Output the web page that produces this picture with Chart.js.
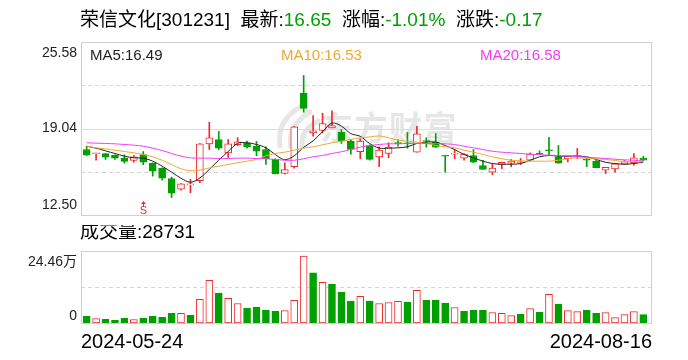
<!DOCTYPE html>
<html>
<head>
<meta charset="utf-8">
<script src="https://cdn.jsdelivr.net/npm/chart.js@4.4.1/dist/chart.umd.min.js"></script>
<style>
  html, body { margin: 0; padding: 0; background: #fff; }
  #wrap { position: relative; width: 688px; height: 360px; overflow: hidden; }
  canvas { position: absolute; left: 0; }
  #price { top: 0; }
  #vol { top: 225px; }
  #title {
    position: absolute; left: 80px; top: 9px; line-height: 22px;
    font-size: 19px; font-family: "Liberation Sans", "Noto Sans CJK SC", sans-serif;
    color: #000; white-space: pre;
  }
  #title .dn { color: #00a000; }
</style>
</head>
<body>
<div id="wrap">
  <canvas id="price" width="688" height="225"></canvas>
  <canvas id="vol" width="688" height="135"></canvas>
  <div id="title">荣信文化[301231]  最新:<span class="dn">16.65</span>  涨幅:<span class="dn">-1.01%</span>  涨跌:<span class="dn">-0.17</span></div>
</div>
<script>
// 2024-05-24 .. 2024-08-16, 60 trading days
const dates = ['2024-05-24', '2024-08-16']

const opens = [17.45, 17.13, 17.15, 17.02, 16.80, 16.63, 17.07, 16.40, 16.02, 15.26,
  14.45, 14.78, 15.09, 17.88, 18.21, 17.20, 17.81, 17.96, 17.70, 17.45,
  16.70, 15.64, 16.15, 21.69, 18.71, 18.89, 19.09, 18.76, 18.08, 17.28,
  17.75, 16.90, 17.15, 17.93, 17.95, 17.25, 18.10, 18.00, 16.97, 17.10,
  16.80, 17.00, 16.24, 15.74, 16.32, 16.42, 16.47, 16.64, 17.12, 17.40,
  16.90, 16.75, 16.92, 16.75, 16.57, 15.89, 15.99, 16.34, 16.45, 16.80]
const closes = [17.03, 17.15, 16.87, 16.80, 16.55, 16.90, 16.49, 15.82, 15.28, 14.15,
  14.85, 14.81, 17.88, 18.34, 17.55, 17.88, 18.04, 17.66, 17.32, 16.75,
  15.62, 15.94, 19.17, 20.55, 18.87, 19.42, 19.27, 18.08, 17.45, 18.08,
  16.70, 17.40, 17.63, 17.90, 17.88, 18.64, 18.06, 17.63, 16.94, 17.13,
  17.10, 16.49, 15.94, 16.04, 16.49, 16.57, 16.50, 17.10, 17.08, 17.36,
  16.42, 16.95, 16.97, 16.64, 16.07, 16.10, 16.37, 16.54, 16.82, 16.65]
const highs = [17.70, 17.16, 17.15, 17.05, 17.05, 17.00, 17.30, 16.45, 16.07, 15.36,
  14.88, 15.20, 17.90, 19.52, 18.81, 18.21, 18.34, 18.08, 18.06, 17.66,
  16.75, 16.45, 19.20, 23.05, 20.02, 20.20, 20.38, 18.96, 18.21, 18.26,
  17.80, 17.66, 17.96, 18.21, 18.74, 19.20, 18.34, 18.66, 16.98, 17.45,
  17.15, 17.45, 16.64, 16.37, 16.49, 16.70, 16.77, 17.20, 17.35, 18.38,
  17.75, 16.95, 17.53, 16.75, 16.64, 16.10, 16.37, 16.62, 17.15, 16.95]
const lows = [17.00, 16.65, 16.70, 16.70, 16.42, 16.49, 16.30, 15.44, 15.13, 13.82,
  14.38, 14.18, 14.94, 17.45, 17.45, 16.85, 17.75, 17.55, 16.98, 16.32,
  15.60, 15.60, 16.04, 20.27, 18.46, 18.71, 19.09, 17.91, 17.10, 16.75,
  16.65, 16.15, 16.83, 17.70, 17.55, 17.25, 17.63, 17.60, 15.74, 16.75,
  16.65, 16.45, 15.94, 15.54, 16.00, 16.15, 16.32, 16.64, 17.07, 17.07,
  16.42, 16.52, 16.77, 16.15, 16.07, 15.62, 15.74, 16.34, 16.27, 16.62]

const ma5 = [17.70, 17.55, 17.35, 17.15, 16.95, 16.82, 16.80, 16.57, 16.19, 15.74,
  15.28, 14.98, 15.30, 15.95, 16.65, 17.30, 17.92, 17.96, 17.83, 17.58,
  17.07, 16.68, 16.98, 17.62, 18.10, 18.80, 19.45, 19.22, 18.65, 18.45,
  17.90, 17.56, 17.55, 17.58, 17.66, 17.91, 18.01, 18.01, 17.75, 17.45,
  17.07, 16.82, 16.57, 16.39, 16.34, 16.34, 16.39, 16.64, 16.90, 17.00,
  16.95, 16.95, 16.95, 16.90, 16.70, 16.49, 16.39, 16.34, 16.39, 16.49]
const ma10 = [17.70, 17.58, 17.50, 17.40, 17.30, 17.20, 17.07, 16.90, 16.64, 16.32,
  15.99, 15.85, 15.89, 16.07, 16.19, 16.32, 16.45, 16.57, 16.70, 16.98,
  17.15, 17.25, 17.40, 17.55, 17.66, 17.81, 17.96, 18.08, 18.21, 18.34,
  18.40, 18.48, 18.34, 18.16, 18.08, 18.00, 17.91, 17.75, 17.66, 17.58,
  17.40, 17.25, 17.07, 16.90, 16.75, 16.64, 16.60, 16.57, 16.57, 16.57,
  16.64, 16.75, 16.82, 16.80, 16.75, 16.70, 16.62, 16.54, 16.52, 16.53]
const ma20 = [17.96, 17.93, 17.91, 17.88, 17.83, 17.78, 17.70, 17.55, 17.38, 17.15,
  16.95, 16.82, 16.80, 16.80, 16.77, 16.77, 16.80, 16.80, 16.77, 16.75,
  16.70, 16.64, 16.64, 16.75, 16.90, 17.00, 17.15, 17.28, 17.45, 17.63,
  17.75, 17.83, 17.88, 17.88, 17.91, 17.91, 17.91, 17.91, 17.88, 17.83,
  17.70, 17.58, 17.45, 17.32, 17.25, 17.20, 17.15, 17.10, 17.05, 17.02,
  17.00, 16.95, 16.92, 16.87, 16.82, 16.77, 16.72, 16.67, 16.64, 16.58]

// volume in 万手
const volumes = [2.29, 1.49, 1.26, 0.91, 1.60, 1.14, 1.60, 2.29, 1.94, 3.31,
  3.31, 2.63, 8.00, 14.52, 10.17, 8.34, 6.63, 5.03, 5.37, 4.34,
  4.00, 4.23, 7.66, 22.75, 17.03, 13.83, 13.26, 10.52, 7.43, 9.03,
  7.43, 6.63, 6.97, 7.32, 7.09, 11.09, 7.77, 7.77, 6.74, 5.26,
  4.00, 4.34, 4.34, 3.54, 3.31, 2.51, 2.97, 4.91, 3.66, 9.72,
  6.40, 4.23, 3.89, 4.34, 3.31, 3.54, 1.83, 2.86, 3.89, 2.87]
const lastVolume = 28731

const priceTicks = [12.50, 19.04, 25.58]
const volTicks = [0, 24.46]
const signals = [6]

const RED = '#f02a2a'
const GREEN = '#00a000'
const C_MA5 = '#222222'
const C_MA10 = '#f0a830'
const C_MA20 = '#f23ff2'
const FONT = '"Liberation Sans", "Noto Sans CJK SC", sans-serif'

const idx = closes.map((_, i) => i)
const isUp = i => closes[i] >= opens[i]
const volUp = i => (i > 0 ? closes[i] >= closes[i - 1] : isUp(i))

const xScale = { type: 'linear', min: -0.6, max: 59.92, offset: false, display: false }

function hline(ctx, a, y, dash, color) {
  const yy = Math.round(y) + 0.5
  ctx.save()
  ctx.strokeStyle = color
  ctx.lineWidth = 1
  ctx.setLineDash(dash)
  ctx.beginPath()
  ctx.moveTo(a.left, yy)
  ctx.lineTo(a.right, yy)
  ctx.stroke()
  ctx.restore()
}

function frame(ctx, a) {
  ctx.save()
  ctx.strokeStyle = '#d0d0d0'
  ctx.lineWidth = 1
  ctx.strokeRect(Math.round(a.left) + 0.5, Math.round(a.top) + 0.5,
    Math.round(a.right - a.left) - 1, Math.round(a.bottom - a.top))
  ctx.restore()
}

const priceDecor = {
  id: 'priceDecor',
  beforeDatasetsDraw(chart) {
    const { ctx, chartArea: a, scales: { y } } = chart
    ctx.save()
    // watermark
    ctx.fillStyle = '#e6e6e6'
    ctx.strokeStyle = '#e6e6e6'
    ctx.lineCap = 'round'
    ctx.lineWidth = 5
    ;[[280, 146, 276, 120, 302, 106], [291, 147, 287, 126, 310, 112], [302, 146, 300, 131, 318, 121]]
      .forEach(p => {
        ctx.beginPath()
        ctx.moveTo(p[0], p[1])
        ctx.quadraticCurveTo(p[2], p[3], p[4], p[5])
        ctx.stroke()
      })
    ctx.font = 'bold 33px "Noto Sans CJK SC", sans-serif'
    ctx.textBaseline = 'middle'
    ctx.textAlign = 'left'
    ;['东', '方', '财', '富'].forEach((ch, k) => ctx.fillText(ch, 320 + k * 34.5, 127))
    ctx.restore()

    const mid = priceTicks[1]
    hline(ctx, a, y.getPixelForValue((priceTicks[0] + mid) / 2), [4, 3], '#d6d6d6')
    hline(ctx, a, y.getPixelForValue(mid), [], '#dcdcdc')
    hline(ctx, a, y.getPixelForValue((priceTicks[2] + mid) / 2), [4, 3], '#d6d6d6')
  },
  afterDraw(chart) {
    const { ctx, chartArea: a, scales: { x, y } } = chart
    frame(ctx, a)
    ctx.save()
    ctx.font = '14px ' + FONT
    ctx.fillStyle = '#222'
    ctx.textAlign = 'right'
    ctx.textBaseline = 'middle'
    ctx.fillText(priceTicks[2].toFixed(2), a.left - 4, y.getPixelForValue(priceTicks[2]) + 11)
    ctx.fillText(priceTicks[1].toFixed(2), a.left - 4, y.getPixelForValue(priceTicks[1]))
    ctx.fillText(priceTicks[0].toFixed(2), a.left - 4, y.getPixelForValue(priceTicks[0]) - 10)

    ctx.font = '15px ' + FONT
    ctx.textAlign = 'left'
    const n = closes.length - 1
    ctx.fillStyle = C_MA5
    ctx.fillText('MA5:' + ma5[n].toFixed(2), 90, a.top + 14)
    ctx.fillStyle = C_MA10
    ctx.fillText('MA10:' + ma10[n].toFixed(2), 281, a.top + 14)
    ctx.fillStyle = C_MA20
    ctx.fillText('MA20:' + ma20[n].toFixed(2), 480, a.top + 14)

    // B/S signal marks
    ctx.fillStyle = RED
    signals.forEach(i => {
      const sx = Math.round(x.getPixelForValue(i))
      const base = a.bottom - 13
      ctx.beginPath()
      ctx.moveTo(sx + 0.5, base - 1)
      ctx.lineTo(sx - 2, base + 2)
      ctx.lineTo(sx + 3, base + 2)
      ctx.closePath()
      ctx.fill()
      ctx.fillRect(sx, base + 2, 1, 3)
      ctx.font = '11px ' + FONT
      ctx.textAlign = 'center'
      ctx.fillText('S', sx + 0.5, base + 9)
    })
    ctx.restore()
  }
}

const volDecor = {
  id: 'volDecor',
  beforeDatasetsDraw(chart) {
    const { ctx, chartArea: a, scales: { y } } = chart
    hline(ctx, a, y.getPixelForValue((volTicks[0] + volTicks[1]) / 2), [4, 3], '#d6d6d6')
  },
  afterDraw(chart) {
    const { ctx, chartArea: a, scales: { y } } = chart
    frame(ctx, a)
    ctx.save()
    ctx.fillStyle = '#222'
    ctx.textBaseline = 'middle'
    ctx.font = '14px ' + FONT
    ctx.textAlign = 'right'
    ctx.fillText(volTicks[1].toFixed(2) + '万', a.left - 4, y.getPixelForValue(volTicks[1]) + 11)
    ctx.fillText(String(volTicks[0]), a.left - 4, y.getPixelForValue(volTicks[0]) - 7)

    ctx.fillStyle = '#000'
    ctx.textAlign = 'left'
    ctx.font = '19px ' + FONT
    ctx.fillText('成交量:' + lastVolume, a.left - 1, a.top - 18)
    ctx.font = '20px ' + FONT
    ctx.fillText(dates[0], a.left, a.bottom + 19)
    ctx.textAlign = 'right'
    ctx.fillText(dates[1], a.right, a.bottom + 19)
    ctx.restore()
  }
}

const maLine = (data, color) => ({
  type: 'line',
  data: idx.map(i => ({ x: i, y: data[i] })),
  borderColor: color,
  borderWidth: 1,
  pointRadius: 0,
  tension: 0.35,
  order: 0
})

new Chart(document.getElementById('price'), {
  type: 'bar',
  data: {
    datasets: [
      maLine(ma20, C_MA20),
      maLine(ma10, C_MA10),
      maLine(ma5, C_MA5),
      {
        data: idx.map(i => ({ x: i, y: [opens[i], closes[i]] })),
        backgroundColor: c => (isUp(c.dataIndex) ? '#ffffff' : GREEN),
        borderColor: c => (isUp(c.dataIndex) ? RED : GREEN),
        borderWidth: 1,
        borderSkipped: false,
        barThickness: 7,
        minBarLength: 1,
        grouped: false,
        order: 1
      },
      {
        data: idx.map(i => ({ x: i, y: [lows[i], highs[i]] })),
        backgroundColor: c => (isUp(c.dataIndex) ? RED : GREEN),
        barThickness: 1,
        grouped: false,
        order: 2
      }
    ]
  },
  options: {
    responsive: false,
    animation: false,
    layout: { padding: { left: 81, right: 36, top: 42, bottom: 10 } },
    plugins: { legend: { display: false }, tooltip: { enabled: false } },
    scales: {
      x: xScale,
      y: { min: priceTicks[0], max: priceTicks[2], display: false }
    }
  },
  plugins: [priceDecor]
})

new Chart(document.getElementById('vol'), {
  type: 'bar',
  data: {
    datasets: [{
      data: idx.map(i => ({ x: i, y: volumes[i] })),
      backgroundColor: c => (volUp(c.dataIndex) ? '#ffffff' : GREEN),
      borderColor: c => (volUp(c.dataIndex) ? RED : GREEN),
      borderWidth: 1,
      borderSkipped: false,
      barThickness: 7
    }]
  },
  options: {
    responsive: false,
    animation: false,
    layout: { padding: { left: 81, right: 36, top: 26, bottom: 37 } },
    plugins: { legend: { display: false }, tooltip: { enabled: false } },
    scales: {
      x: xScale,
      y: { min: volTicks[0], max: volTicks[1], display: false }
    }
  },
  plugins: [volDecor]
})
</script>
</body>
</html>
